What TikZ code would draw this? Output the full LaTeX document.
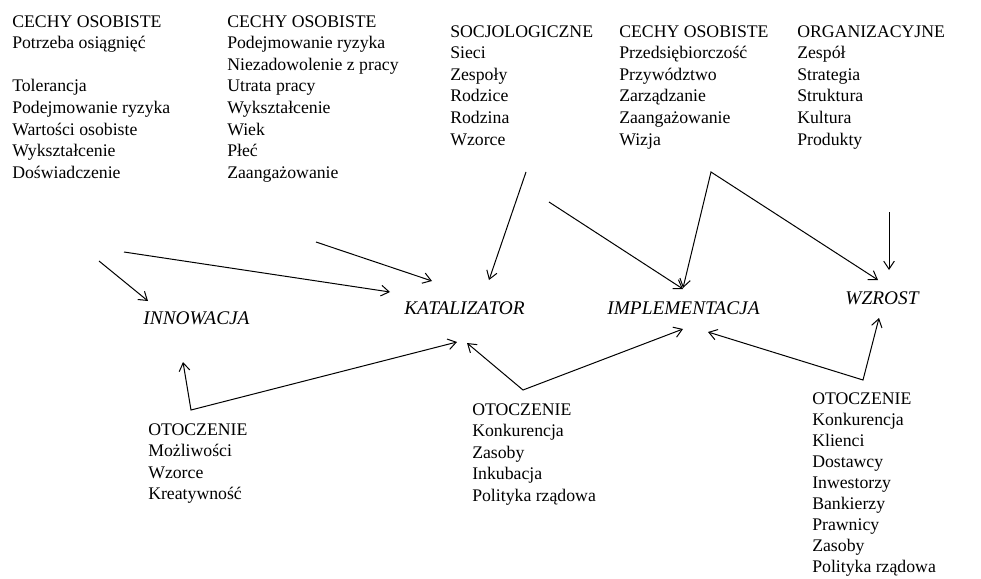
\documentclass[tikz,border=0pt]{standalone}
\usepackage{fontspec}
\setmainfont{Liberation Serif}
\usetikzlibrary{arrows.meta}
\begin{document}
\begin{tikzpicture}[x=0.75pt,y=-0.75pt,
  lst/.style={anchor=north west,inner sep=0pt,align=left,font=\fontsize{13.3}{16.2}\selectfont},
  lsttight/.style={lst,font=\fontsize{13.3}{15.8}\selectfont},
  lbl/.style={inner sep=0pt,font=\fontsize{14.5}{17}\selectfont\itshape},
  conn/.style={line width=0.75pt,-{Straight Barb[length=6pt,width=8pt]}},
  conntwo/.style={line width=0.75pt,{Straight Barb[length=6pt,width=8pt]}-{Straight Barb[length=6pt,width=8pt]}}]
\useasboundingbox (0,0) rectangle (981,578);
% text blocks
\node[lst] (c1) at (12,15) {CECHY OSOBISTE\\Potrzeba osiągnięć\\[16.2pt]Tolerancja\\Podejmowanie ryzyka\\Wartości osobiste\\Wykształcenie\\Doświadczenie};
\node[lst] (c2) at (227,15) {CECHY OSOBISTE\\Podejmowanie ryzyka\\Niezadowolenie z pracy\\Utrata pracy\\Wykształcenie\\Wiek\\Płeć\\Zaangażowanie};
\node[lst] (c3) at (450,25) {SOCJOLOGICZNE\\Sieci\\Zespoły\\Rodzice\\Rodzina\\Wzorce};
\node[lst] (c4) at (619,25) {CECHY OSOBISTE\\Przedsiębiorczość\\Przywództwo\\Zarządzanie\\Zaangażowanie\\Wizja};
\node[lst] (c5) at (797,25) {ORGANIZACYJNE\\Zespół\\Strategia\\Struktura\\Kultura\\Produkty};
\node[lst] (o1) at (148,423) {OTOCZENIE\\Możliwości\\Wzorce\\Kreatywność};
\node[lst] (o2) at (472,403) {OTOCZENIE\\Konkurencja\\Zasoby\\Inkubacja\\Polityka rządowa};
\node[lsttight] (o3) at (812,392) {OTOCZENIE\\Konkurencja\\Klienci\\Dostawcy\\Inwestorzy\\Bankierzy\\Prawnicy\\Zasoby\\Polityka rządowa};
% main labels
\node[lbl] (inn) at (196.5,318) {INNOWACJA};
\node[lbl] (kat) at (464.5,308) {KATALIZATOR};
\node[lbl] (imp) at (683.5,308) {IMPLEMENTACJA};
\node[lbl] (wzr) at (882,298) {WZROST};
% connector end points
\coordinate (t1) at (99,261);  \coordinate (h1) at (148,301);
\coordinate (t2) at (124,252); \coordinate (h2) at (390,292);
\coordinate (t3) at (316,242); \coordinate (h3) at (432,281);
\coordinate (t4) at (526,172); \coordinate (h4) at (489,280);
\coordinate (t5) at (549,202); \coordinate (h5) at (683,289);
\coordinate (p6) at (711,172); \coordinate (h6a) at (683,288); \coordinate (h6b) at (878,280);
\coordinate (t7) at (889,212); \coordinate (h7) at (889,270);
\coordinate (p8) at (863,380); \coordinate (h8a) at (708,332); \coordinate (h8b) at (879,318);
\coordinate (p9) at (523,390); \coordinate (h9a) at (467,343); \coordinate (h9b) at (683,329);
\coordinate (p10) at (191,410); \coordinate (h10a) at (183,362); \coordinate (h10b) at (457,342);
% connectors
\draw[conn] (t1) -- (h1);
\draw[conn] (t2) -- (h2);
\draw[conn] (t3) -- (h3);
\draw[conn] (t4) -- (h4);
\draw[conn] (t5) -- (h5);
\draw[conntwo] (h6a) -- (p6) -- (h6b);
\draw[conn] (t7) -- (h7);
\draw[conntwo] (h8a) -- (p8) -- (h8b);
\draw[conntwo] (h9a) -- (p9) -- (h9b);
\draw[conntwo] (h10a) -- (p10) -- (h10b);
\end{tikzpicture}
\end{document}
